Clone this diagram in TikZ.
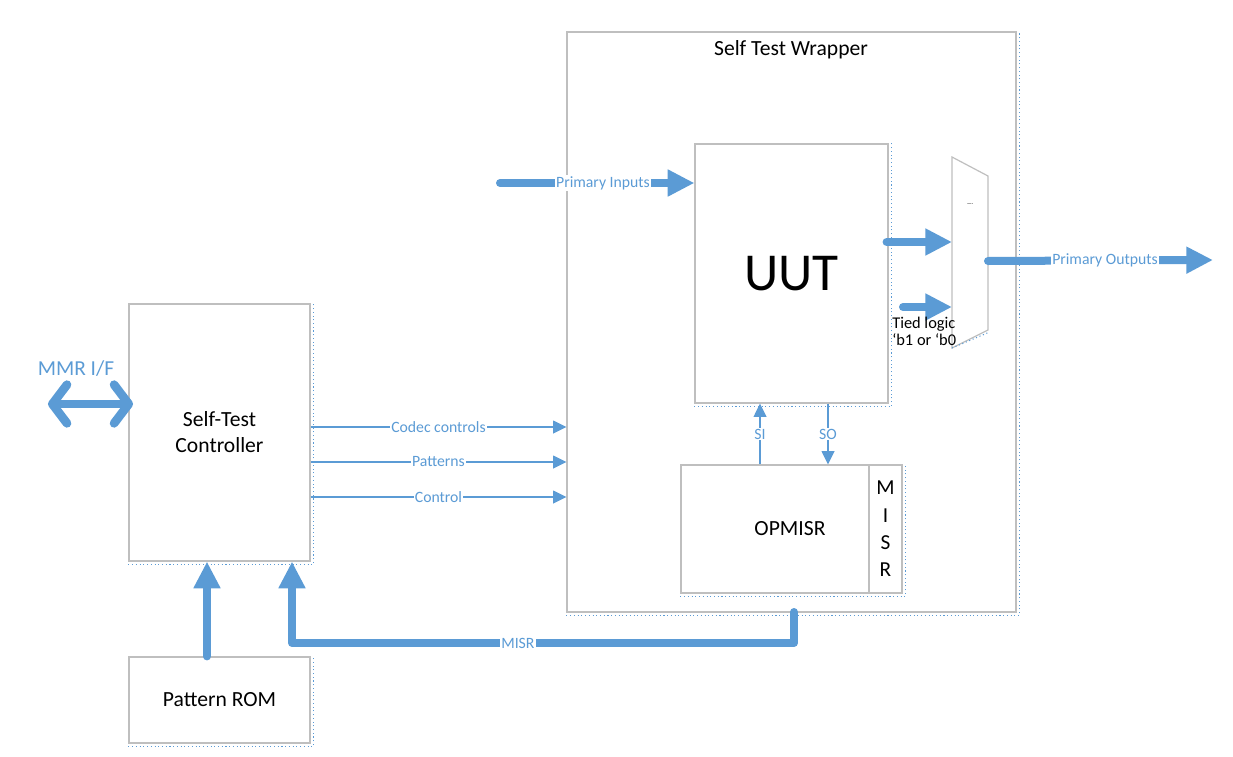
\documentclass[tikz,border=0pt]{standalone}
\usepackage{fontspec}
\setmainfont{Carlito}
\usetikzlibrary{arrows.meta,positioning}
\definecolor{lineblue}{RGB}{91,155,213}
\definecolor{boxgray}{RGB}{191,191,191}
% dotted shadow edge under and right of a box
\newcommand{\dotedges}[1]{%
  \draw[edgedots] ([yshift=-2.2pt]#1.south west) -- ([yshift=-2.2pt,xshift=2.2pt]#1.south east)
    -- ([xshift=2.2pt]#1.north east);}
\begin{document}
\begin{tikzpicture}[
   x=0.75pt, y=-0.75pt,
   box/.style={draw=boxgray, line width=0.9pt, fill=white, inner sep=0pt},
   big/.style={font=\fontsize{16.2}{19.5}\selectfont},
   lbl/.style={text=lineblue, font=\fontsize{11.8}{13}\selectfont, fill=white, inner sep=0.8pt},
   sig/.style={draw=lineblue, line width=1.4pt, -{Triangle[length=10pt,width=9.5pt]}},
   bus/.style={draw=lineblue, line width=6pt, line cap=round, line join=round,
               -{Triangle[length=20pt,width=19pt]}},
   mmr/.style={draw=lineblue, line width=6.5pt,
               {Straight Barb[round,length=11pt,width=29pt]}-{Straight Barb[round,length=11pt,width=29pt]}},
   edgedots/.style={lineblue, dotted, line width=0.8pt}
]
\useasboundingbox (0,0) rectangle (1233,757);

% Wrapper and unit under test
\node[box, minimum width=336.75pt, minimum height=435pt] (wrap) at (791.5,322) {};
\dotedges{wrap}
\node[big] (wraptitle) at (791,50) {Self Test Wrapper};
\node[box, minimum width=144.75pt, minimum height=194.25pt,
      font=\fontsize{40}{42}\selectfont] (uut) at (791.5,273.5) {UUT};
\dotedges{uut}

% Output mux
\coordinate (mux nw) at (952,157);
\coordinate (mux ne) at (988,176);
\coordinate (mux se) at (988,330);
\coordinate (mux sw) at (952,348);
\draw[draw=boxgray, line width=0.9pt, fill=white] (mux nw) -- (mux ne) -- (mux se) -- (mux sw) -- cycle;
\draw[edgedots] (mux sw) -- ([yshift=-2pt]mux se);
\node[font=\fontsize{4}{4}\selectfont] (muxsel) at (970,205) {----};

% OPMISR
\node[box, minimum width=165.75pt, minimum height=96pt] (opmisr) at (791.5,529) {};
\dotedges{opmisr}
\node[box, minimum width=24.75pt, minimum height=96pt, align=center,
      font=\fontsize{16}{20.5}\selectfont] (misr) at (885.5,529) {M\\I\\S\\R};
\node[big] (opmisrlbl) at (790,529) {OPMISR};

% Controller and ROM
\node[box, minimum width=135.75pt, minimum height=192.75pt, big, align=center] (ctrl)
   at (219.5,432.5) {Self-Test\\Controller};
\dotedges{ctrl}
\node[box, minimum width=135.75pt, minimum height=64.5pt, big] (rom) at (219.5,700) {Pattern ROM};
\dotedges{rom}

% Control signals
\coordinate (ycodec) at (0,427);
\coordinate (ypat) at (0,462);
\coordinate (yctl) at (0,497);
\draw[sig] (ctrl.east |- ycodec) -- (wrap.west |- ycodec) node[midway, lbl] {Codec controls};
\draw[sig] (ctrl.east |- ypat) -- (wrap.west |- ypat) node[midway, lbl] {Patterns};
\draw[sig] (ctrl.east |- yctl) -- (wrap.west |- yctl) node[midway, lbl] {Control};

% Scan in / out
\coordinate (xsi) at (760,0);
\coordinate (xso) at (828,0);
\draw[sig] (opmisr.north -| xsi) -- (uut.south -| xsi) node[midway, lbl] {SI};
\draw[sig] (uut.south -| xso) -- (opmisr.north -| xso) node[midway, lbl] {SO};

% Primary inputs / outputs
\coordinate (pin) at (500,183);
\coordinate (yuut) at (0,242);
\coordinate (tied) at (903,307);
\coordinate (pout) at (1213,260);
\draw[bus] (pin) -- (uut.west |- pin) node[midway, lbl, pos=0.53] {Primary Inputs};
\draw[bus] ([xshift=-1.5pt]uut.east |- yuut) -- (mux nw |- yuut);
\draw[bus] (tied) -- (mux nw |- tied);
\node[anchor=west, align=left, font=\fontsize{12.3}{12.75}\selectfont, inner sep=0pt] (tiedlbl)
   at (892,331) {Tied logic\\‘b1 or ‘b0};
\draw[bus] (mux ne |- 0,261) -- (pout) node[midway, lbl, pos=0.52] {Primary Outputs};

% MMR interface
\coordinate (mmrend) at (48,404);
\draw[mmr] (mmrend) -- ([xshift=3.5pt]ctrl.west |- mmrend);
\node[text=lineblue, font=\fontsize{16}{18}\selectfont] (mmrlbl) at (76,369) {MMR I/F};

% ROM and signature feedback
\coordinate (xrom) at (207,0);
\coordinate (xfb) at (292,0);
\coordinate (misrout) at (794,612);
\draw[bus] (rom.north -| xrom) -- (ctrl.south -| xrom);
\draw[bus] (misrout) -- ++(0,31) -| (ctrl.south -| xfb) node[lbl, pos=0.275] {MISR};

\end{tikzpicture}
\end{document}
